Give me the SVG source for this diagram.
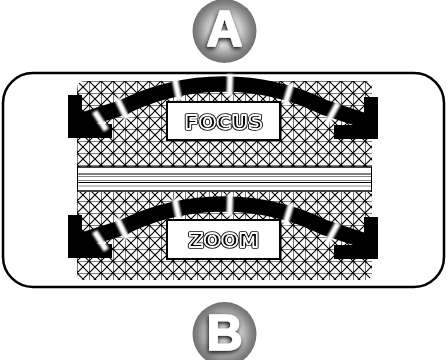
<svg xmlns="http://www.w3.org/2000/svg" width="447" height="360" viewBox="0 0 447 360">
<defs>
  <pattern id="mesh" x="77" y="81" width="12" height="12" patternUnits="userSpaceOnUse">
    <rect width="12" height="12" fill="#fff"/>
    <path d="M0 0H12M0 0V12M0 0L12 12M12 0L0 12" stroke="#000" stroke-width="1.1" fill="none"/>
  </pattern>
  <radialGradient id="badge" cx="0.5" cy="0.5" r="0.5">
    <stop offset="0" stop-color="#f4f4f4"/>
    <stop offset="0.5" stop-color="#d0d0d0"/>
    <stop offset="0.85" stop-color="#858585"/>
    <stop offset="1" stop-color="#707070"/>
  </radialGradient>
  <filter id="shadow" x="-30%" y="-30%" width="160%" height="160%">
    <feGaussianBlur in="SourceAlpha" stdDeviation="2.5" result="b"/>
    <feOffset in="b" dx="-1.5" dy="2" result="o"/>
    <feMerge><feMergeNode in="o"/><feMergeNode in="SourceGraphic"/></feMerge>
  </filter>
  <filter id="soft" x="-50%" y="-50%" width="200%" height="200%">
    <feGaussianBlur stdDeviation="0.8"/>
  </filter>
  <filter id="flat"><feOffset dx="0" dy="0"/></filter>
  <g id="arrow">
    <polyline points="75,95 75,131 112,131" class="head"/>
    <polyline points="371,97 371,132 334,132" class="head"/>
    <path d="M80 121 L122.1 107.7 A229 229 0 0 1 324.9 107.7 L367 121.5" class="band"/>
    <g class="gap" filter="url(#soft)">
      <line x1="223.5" y1="74" x2="223.5" y2="96" transform="rotate(-32.5 223.5 314)"/>
      <line x1="223.5" y1="74" x2="223.5" y2="96" transform="rotate(-26.3 223.5 314)"/>
      <line x1="223.5" y1="74" x2="223.5" y2="96" transform="rotate(-11.7 223.5 314)"/>
      <line x1="223.5" y1="74" x2="223.5" y2="96" transform="rotate(1.6 223.5 314)"/>
      <line x1="223.5" y1="74" x2="223.5" y2="96" transform="rotate(16.4 223.5 314)"/>
      <line x1="223.5" y1="74" x2="223.5" y2="96" transform="rotate(28.5 223.5 314)"/>
    </g>
  </g>
</defs>
<style>
  .band { fill: none; stroke: #000; stroke-width: 15.5; stroke-linejoin: round; }
  .head { fill: none; stroke: #000; stroke-width: 14; stroke-linejoin: miter; stroke-linecap: butt; }
  .gap line { stroke: #fff; stroke-width: 6; }
  .box { fill: #fff; stroke: #000; stroke-width: 2; }
  .lbl { font-family: "DejaVu Sans", sans-serif; font-weight: bold; font-size: 20px; text-anchor: middle; letter-spacing: 0.5px; }
  .lo { fill: #000; stroke: #000; stroke-width: 3.6; stroke-linejoin: round; }
  .li { fill: #000; stroke: #fff; stroke-width: 1.8; stroke-linejoin: round; }
  .bl { font-family: "Liberation Sans", Arial, sans-serif; font-weight: bold; font-size: 50px; text-anchor: middle; fill: #fff; stroke: #fff; stroke-width: 1.6; stroke-linejoin: round; }
  .rule { stroke: #000; stroke-width: 1; }
  .grey { stroke: #888; stroke-width: 1; }
</style>

<g id="badge-a">
  <circle cx="224.5" cy="31" r="32" fill="url(#badge)"/>
  <text x="224.5" y="45.5" class="bl" filter="url(#shadow)">A</text>
</g>

<g id="panel">
  <rect x="3" y="73" width="441" height="214" rx="30" ry="30" fill="#fff" stroke="#000" stroke-width="2.5"/>
  <rect x="77" y="81" width="295" height="199" rx="7" ry="7" fill="url(#mesh)"/>
  <rect x="77" y="167" width="295" height="25" fill="#fff"/>
  <line x1="77" y1="167" x2="372" y2="167" stroke="#000" stroke-width="1.6"/>
  <line x1="77" y1="174" x2="372" y2="174" class="rule"/>
  <line x1="77" y1="176.5" x2="372" y2="176.5" class="grey"/>
  <line x1="77" y1="180.5" x2="372" y2="180.5" class="grey"/>
  <line x1="77" y1="182.5" x2="372" y2="182.5" class="rule"/>
  <line x1="77" y1="186" x2="372" y2="186" class="grey"/>
  <line x1="77" y1="191" x2="372" y2="191" stroke="#000" stroke-width="1.6"/>
  <line x1="77.5" y1="167" x2="77.5" y2="192" class="rule"/>
  <line x1="371.5" y1="167" x2="371.5" y2="192" class="rule"/>
</g>

<g id="connectors">
  <use href="#arrow"/>
  <use href="#arrow" transform="translate(0 120)"/>
</g>

<g id="focus">
  <rect x="167" y="102" width="113" height="38" class="box"/>
  <g filter="url(#flat)">
    <text x="224" y="128.5" class="lbl lo">FOCUS</text>
    <text x="224" y="128.5" class="lbl li">FOCUS</text>
  </g>
</g>

<g id="zoom">
  <rect x="167" y="220" width="113" height="39" class="box"/>
  <g filter="url(#flat)">
    <text x="224" y="247" class="lbl lo">ZOOM</text>
    <text x="224" y="247" class="lbl li">ZOOM</text>
  </g>
</g>

<g id="badge-b">
  <circle cx="224.5" cy="334" r="32" fill="url(#badge)"/>
  <text x="224.5" y="349.5" class="bl" filter="url(#shadow)">B</text>
</g>
</svg>
